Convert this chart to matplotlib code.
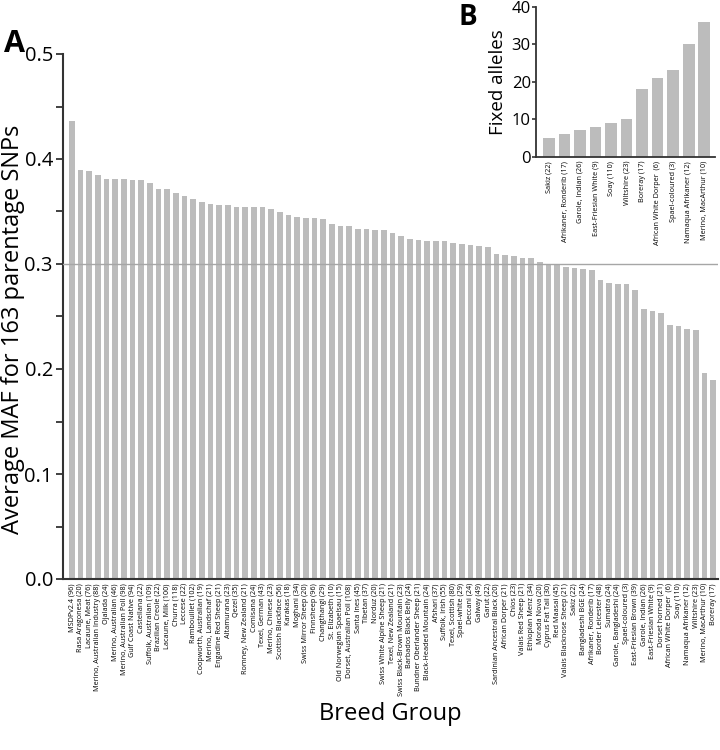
import matplotlib
matplotlib.use("Agg")
from matplotlib import pyplot as plt
from matplotlib.ticker import MultipleLocator

plt.rcParams["font.family"] = ["Open Sans", "DejaVu Sans"]

breeds = [
    "MSDPv2.4 (96)", "Rasa Aragonesa (20)", "Lacaune, Meat (76)",
    "Merino, Australian Industry (88)", "Ojalada (24)", "Merino, Australian (46)",
    "Merino, Australian Poll (98)", "Gulf Coast Native (94)", "Castellana (22)",
    "Suffolk, Australian (109)", "Brazilian Creole (22)", "Lacaune, Milk (100)",
    "Churra (118)", "Leccese (22)", "Rambouillet (102)", "Coopworth, Australian (19)",
    "Merino, Landschaf (21)", "Engadine Red Sheep (21)", "Altamurana (23)",
    "Qezel (35)", "Romney, New Zealand (21)", "Comisana (24)", "Texel, German (43)",
    "Merino, Chinese (23)", "Scottish Blackface (56)", "Karakas (18)",
    "Moghani (34)", "Swiss Mirror Sheep (20)", "Finnsheep (96)", "Changthangi (29)",
    "St. Elizabeth (10)", "Old Norwegian Spaelsau (15)", "Dorset, Australian Poll (108)",
    "Santa Ines (45)", "Tibetan (37)", "Norduz (20)", "Swiss White Alpine Sheep (21)",
    "Texel, New Zealand (21)", "Swiss Black-Brown Mountain (23)",
    "Barbados Black Belly (24)", "Bundner Oberlander Sheep (21)",
    "Black-Headed Mountain (24)", "Afshari (37)", "Suffolk, Irish (55)",
    "Texel, Scottish (80)", "Spael-white (29)", "Deccani (24)", "Galway (49)",
    "Garut (22)", "Sardinian Ancestral Black (20)", "African Dorper (21)",
    "Chios (23)", "Valais Red Sheep (21)", "Ethiopian Menz (34)", "Morada Nova (20)",
    "Cyprus Fat Tail (30)", "Red Maasai (45)", "Valais Blacknose Sheep (21)",
    "Sakiz (22)", "Bangladeshi BGE (24)", "Afrikaner, Ronderib (17)",
    "Border Leicester (48)", "Sumatra (24)", "Garole, Bangladeshi (24)",
    "Spael-coloured (3)", "East-Friesian Brown (39)", "Garole, Indian (26)",
    "East-Friesian White (9)", "Dorset horned (21)", "African White Dorper  (6)",
    "Soay (110)", "Namaqua Afrikaner (12)", "Wiltshire (23)",
    "Merino, MacArthur (10)", "Boreray (17)",
]
maf = [
    0.436, 0.390, 0.389, 0.385, 0.381, 0.381, 0.381, 0.380, 0.380, 0.377,
    0.371, 0.371, 0.368, 0.365, 0.362, 0.359, 0.357, 0.356, 0.356, 0.354,
    0.354, 0.354, 0.354, 0.352, 0.350, 0.347, 0.345, 0.3435, 0.3435, 0.343,
    0.338, 0.336, 0.336, 0.333, 0.333, 0.332, 0.332, 0.330, 0.327, 0.324,
    0.323, 0.322, 0.322, 0.322, 0.320, 0.319, 0.318, 0.317, 0.3165, 0.310,
    0.309, 0.308, 0.306, 0.306, 0.302, 0.300, 0.300, 0.297, 0.296, 0.295,
    0.294, 0.285, 0.282, 0.281, 0.281, 0.2755, 0.257, 0.255, 0.253, 0.242,
    0.241, 0.238, 0.237, 0.196, 0.190,
]

fixed_breeds = [
    "Sakiz (22)", "Afrikaner, Ronderib (17)", "Garole, Indian (26)",
    "East-Friesian White (9)", "Soay (110)", "Wiltshire (23)", "Boreray (17)",
    "African White Dorper  (6)", "Spael-coloured (3)", "Namaqua Afrikaner (12)",
    "Merino, MacArthur (10)",
]
fixed_alleles = [5, 6, 7, 8, 9, 10, 18, 21, 23, 30, 36]

bar_color = "#bcbcbc"
spine_color = "#333333"

fig = plt.figure(figsize=(7.2, 7.5), dpi=100)

# panel A
ax = fig.add_axes([0.087, 0.228, 0.91, 0.7])
x = list(range(len(maf)))
ax.bar(x, maf, width=0.66, color=bar_color, zorder=2)
ax.axhline(0.3, color="#a6a6a6", linewidth=1, zorder=3)
ax.set_xlim(-1.05, len(maf) - 0.45)
ax.set_ylim(0, 0.5)
ax.yaxis.set_major_locator(MultipleLocator(0.1))
ax.yaxis.set_minor_locator(MultipleLocator(0.05))
ax.set_xticks(x)
ax.set_xticklabels(breeds, rotation=90, fontsize=5.2, va="top", ha="center")
ax.tick_params(axis="x", length=0, pad=3)
ax.tick_params(axis="y", which="major", length=5, width=1.3, labelsize=14.5, color=spine_color, pad=2)
ax.tick_params(axis="y", which="minor", length=5, width=1.3, color=spine_color)
ax.yaxis.set_major_formatter(matplotlib.ticker.FormatStrFormatter("%.1f"))
for side in ["top", "right"]:
    ax.spines[side].set_visible(False)
for side in ["left", "bottom"]:
    ax.spines[side].set_linewidth(1.5)
    ax.spines[side].set_color(spine_color)
ax.set_ylabel("Average MAF for 163 parentage SNPs", fontsize=17)
ax.yaxis.set_label_coords(-0.058, 0.475)
ax.set_xlabel("Breed Group", fontsize=17)
ax.xaxis.set_label_coords(0.5, -0.235)
fig.text(0.006, 0.922, "A", fontsize=22, fontweight="bold", va="bottom")

# panel B
axb = fig.add_axes([0.745, 0.791, 0.248, 0.2])
xb = list(range(len(fixed_alleles)))
axb.bar(xb, fixed_alleles, width=0.75, color=bar_color)
axb.set_xlim(-0.81, len(fixed_alleles) - 0.31)
axb.set_ylim(0, 40)
axb.yaxis.set_major_locator(MultipleLocator(10))
axb.set_xticks(xb)
axb.set_xticklabels(fixed_breeds, rotation=90, fontsize=5.2, va="top", ha="center")
axb.tick_params(axis="x", length=0, pad=3)
axb.tick_params(axis="y", length=3, width=1.2, labelsize=12, color=spine_color, pad=1)
for side in ["top", "right"]:
    axb.spines[side].set_visible(False)
for side in ["left", "bottom"]:
    axb.spines[side].set_linewidth(1.3)
    axb.spines[side].set_color(spine_color)
axb.set_ylabel("Fixed alleles", fontsize=13.5, labelpad=3)
fig.text(0.637, 0.957, "B", fontsize=20, fontweight="bold", va="bottom")

fig.savefig("out.png", dpi=100)
